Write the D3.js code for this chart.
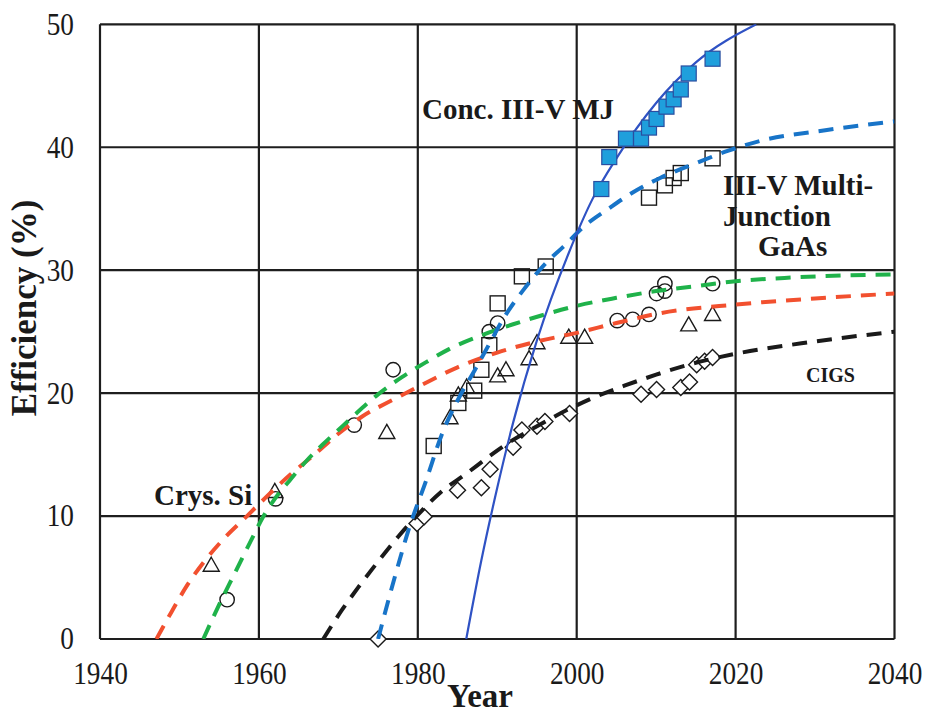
<!DOCTYPE html>
<html>
<head>
<meta charset="utf-8">
<script src="https://cdn.jsdelivr.net/npm/d3@7"></script>
<style>
  html, body { margin: 0; padding: 0; background: #ffffff; }
  svg { display: block; }
  text { font-family: "Liberation Serif", "Times New Roman", serif; fill: #1a1a1a; }
</style>
</head>
<body>
<svg id="chart" width="927" height="715"></svg>
<script>
// Axis ticks
const xTicks = [1940, 1960, 1980, 2000, 2020, 2040];
const yTicks = [0, 10, 20, 30, 40, 50];

// Record cell efficiencies: [year, efficiency %]
const concMJ = [[2003.1,36.6],[2004.1,39.2],[2006.2,40.7],[2008.1,40.7],[2009.1,41.6],[2010.05,42.3],
  [2011.3,43.3],[2012.2,43.9],[2013.1,44.7],[2014.1,46.0],[2017.1,47.2]];
const multiJunction = [[1982.0,15.7],[1985.1,19.2],[1987.1,20.2],[1988.0,21.9],[1989.0,23.9],[1990.05,27.3],
  [1993.1,29.5],[1996.1,30.3],[2009.1,35.9],[2011.1,36.9],[2012.2,37.5],[2013.1,37.9],[2017.1,39.1]];
const siCircles = [[1956.0,3.2],[1962.1,11.4],[1972.0,17.4],[1976.9,21.9],[1989.0,25.0],[1990.05,25.7],
  [2005.1,25.9],[2007.05,26.0],[2009.1,26.4],[2010.05,28.1],[2011.1,28.9],[2011.1,28.3],[2017.1,28.9]];
const siTriangles = [[1954.0,6.0],[1962.0,12.0],[1976.1,16.8],[1984.05,18.0],[1985.1,19.85],[1986.15,20.5],
  [1990.05,21.4],[1991.1,21.9],[1994.0,22.8],[1995.0,24.1],[1999.0,24.55],[2001.0,24.55],[2014.1,25.55],[2017.1,26.4]];
const cigsDiamonds = [[1975.0,0],[1979.9,9.4],[1980.8,9.95],[1985.0,12.1],[1988.0,12.3],[1989.1,13.8],
  [1992.0,15.6],[1993.1,17.0],[1995.0,17.3],[1996.0,17.7],[1999.1,18.35],[2008.1,19.9],[2010.05,20.3],
  [2013.1,20.45],[2014.2,20.9],[2015.1,22.3],[2016.1,22.6],[2017.1,22.9]];

// Trend curves: [year, efficiency %]
const concTrend = [[1986.1,0],[1988,6.4],[1990,12.3],[1992,17.6],[1995,24.3],[1999,31.4],[2002,35.8],
  [2005,39.1],[2010,43.6],[2015,46.9],[2022.6,50]];
const mjTrend = [[1975,0],[1977,4.8],[1979,9.2],[1981,12.8],[1983,16.6],[1985,19.4],[1987.2,21.9],[1989,24],
  [1991,26.3],[1993.3,28.4],[1996,30.5],[1998.3,31.9],[2001,33.6],[2004,35],[2007,36.3],[2010.5,37.5],
  [2015,38.7],[2019,39.7],[2023,40.5],[2031.5,41.4],[2040,42.1]];
const siGreenTrend = [[1953,0],[1955,2.8],[1957,5.4],[1959,8.0],[1960.5,9.9],[1962,11.4],[1964,13.0],
  [1966,14.5],[1968,15.8],[1970,17.0],[1972,18.2],[1975,19.9],[1978,21.3],[1981,22.5],[1984,23.6],
  [1988,24.7],[1992,25.6],[1996,26.4],[2000,27.1],[2005,27.75],[2010,28.3],[2015,28.7],[2020,29.1],
  [2027,29.4],[2040,29.65]];
const siRedTrend = [[1947.1,0],[1949,2.2],[1951,4.4],[1953,6.2],[1955.5,8.1],[1958.5,10],[1961,11.6],
  [1964,13.4],[1967,15],[1970,16.7],[1973,18.1],[1977,19.5],[1980,20.5],[1985,22.1],[1990,23.3],
  [1995,24.2],[2000,24.9],[2005,25.7],[2010.5,26.5],[2020,27.2],[2030,27.7],[2040,28.1]];
const cigsTrend = [[1968.1,0],[1970.5,2.4],[1972.5,4.2],[1975,6.3],[1977.5,8.3],[1980,10.1],[1983,12],
  [1986,13.4],[1989.5,15.1],[1992,16.2],[1995,17.3],[1998.7,18.6],[2002,19.6],[2006,20.6],[2010,21.5],
  [2014,22.3],[2020,23.2],[2030,24.2],[2040,25.0]];

const serif = "'Liberation Serif', 'Times New Roman', serif";
const svg = d3.select("#chart");
const plot = { left: 100, top: 24.3, right: 894.5, bottom: 639 };

const x = d3.scaleLinear().domain([1940, 2040]).range([plot.left, plot.right]);
const y = d3.scaleLinear().domain([0, 50]).range([plot.bottom, plot.top]);

svg.append("defs").append("clipPath").attr("id", "plotClip")
  .append("rect").attr("x", plot.left).attr("y", plot.top)
  .attr("width", plot.right - plot.left).attr("height", plot.bottom - plot.top);

// Grid and frame
const gridColor = "#1e1e1e";
svg.append("g").selectAll("line").data(xTicks).join("line")
  .attr("x1", d => x(d)).attr("x2", d => x(d))
  .attr("y1", plot.top).attr("y2", plot.bottom)
  .attr("stroke", gridColor).attr("stroke-width", 2.2);
svg.append("g").selectAll("line").data(yTicks).join("line")
  .attr("x1", plot.left).attr("x2", plot.right)
  .attr("y1", d => y(d)).attr("y2", d => y(d))
  .attr("stroke", gridColor).attr("stroke-width", 2.2);

// Axes (labels only; the grid draws the lines). Tick numerals use a slightly narrowed serif face.
const narrow = 0.88;
const xAxis = svg.append("g").attr("transform", `translate(0,${plot.bottom})`)
  .call(d3.axisBottom(x).tickValues(xTicks).tickFormat(d3.format("d")).tickSize(0).tickPadding(23))
  .attr("font-family", serif).attr("font-size", 31);
xAxis.select(".domain").remove();
xAxis.selectAll("text").style("font-family", serif).attr("font-size", 31).attr("fill", "#1a1a1a")
  .attr("transform", `scale(${narrow},1)`);

const yAxis = svg.append("g").attr("transform", `translate(${plot.left},0)`)
  .call(d3.axisLeft(y).tickValues(yTicks).tickFormat(d3.format("d")).tickSize(0).tickPadding(26))
  .attr("font-family", serif).attr("font-size", 31);
yAxis.select(".domain").remove();
yAxis.selectAll("text").style("font-family", serif).attr("font-size", 31).attr("fill", "#1a1a1a")
  .attr("x", -26 / narrow).attr("transform", `scale(${narrow},1)`);

// Markers
const mk = svg.append("g");
const ink = "#1a1a1a";
mk.selectAll("rect.mj").data(multiJunction).join("rect").attr("class", "mj")
  .attr("x", d => x(d[0]) - 7.5).attr("y", d => y(d[1]) - 7.5)
  .attr("width", 15).attr("height", 15)
  .attr("fill", "none").attr("stroke", ink).attr("stroke-width", 1.4);
mk.selectAll("circle").data(siCircles).join("circle")
  .attr("cx", d => x(d[0])).attr("cy", d => y(d[1])).attr("r", 7.2)
  .attr("fill", "none").attr("stroke", ink).attr("stroke-width", 1.4);
mk.selectAll("path.tri").data(siTriangles).join("path").attr("class", "tri")
  .attr("d", d => { const cx = x(d[0]), cy = y(d[1]);
    return `M${cx},${cy - 8}L${cx + 8},${cy + 6}L${cx - 8},${cy + 6}Z`; })
  .attr("fill", "none").attr("stroke", ink).attr("stroke-width", 1.4);
mk.selectAll("path.dia").data(cigsDiamonds).join("path").attr("class", "dia")
  .attr("d", d => { const cx = x(d[0]), cy = y(d[1]);
    return `M${cx},${cy - 8}L${cx + 8},${cy}L${cx},${cy + 8}L${cx - 8},${cy}Z`; })
  .attr("fill", "#ffffff").attr("stroke", ink).attr("stroke-width", 1.4);

// Trend lines
const line = d3.line().x(d => x(d[0])).y(d => y(d[1])).curve(d3.curveMonotoneX);
const trends = svg.append("g").attr("clip-path", "url(#plotClip)");
const dashed = [
  { data: siRedTrend, color: "#f2502f" },
  { data: siGreenTrend, color: "#1fb24a" },
  { data: cigsTrend, color: "#1a1a1a" },
  { data: mjTrend, color: "#1874c8" }
];
dashed.forEach(s => {
  trends.append("path").datum(s.data).attr("d", line)
    .attr("fill", "none").attr("stroke", s.color).attr("stroke-width", 4)
    .attr("stroke-dasharray", "15,10");
});

// Concentrator multi-junction records (filled) and their fit
svg.append("g").selectAll("rect").data(concMJ).join("rect")
  .attr("x", d => x(d[0]) - 7.5).attr("y", d => y(d[1]) - 7.5)
  .attr("width", 15).attr("height", 15)
  .attr("fill", "#1f9fdc").attr("stroke", "#2a4ea0").attr("stroke-width", 1.2);
trends.append("path").datum(concTrend).attr("d", line)
  .attr("fill", "none").attr("stroke", "#2f52c4").attr("stroke-width", 2.2);

// Series labels
const lab = svg.append("g").attr("font-weight", "bold");
lab.append("text").attr("x", 422).attr("y", 119).attr("font-size", 29).text("Conc. III-V MJ");
lab.append("text").attr("x", 723).attr("y", 195).attr("font-size", 29).text("III-V Multi-");
lab.append("text").attr("x", 723).attr("y", 226).attr("font-size", 29).text("Junction");
lab.append("text").attr("x", 758).attr("y", 256).attr("font-size", 29).text("GaAs");
lab.append("text").attr("x", 806).attr("y", 382).attr("font-size", 20).text("CIGS");
lab.append("text").attr("x", 154).attr("y", 505).attr("font-size", 29).text("Crys. Si");

// Axis titles
svg.append("text").attr("x", 480).attr("y", 707).attr("text-anchor", "middle")
  .attr("font-size", 33).attr("font-weight", "bold").text("Year");
svg.append("text").attr("transform", "translate(36,308) rotate(-90)").attr("text-anchor", "middle")
  .attr("font-size", 35).attr("font-weight", "bold").text("Efficiency (%)");
</script>
</body>
</html>
